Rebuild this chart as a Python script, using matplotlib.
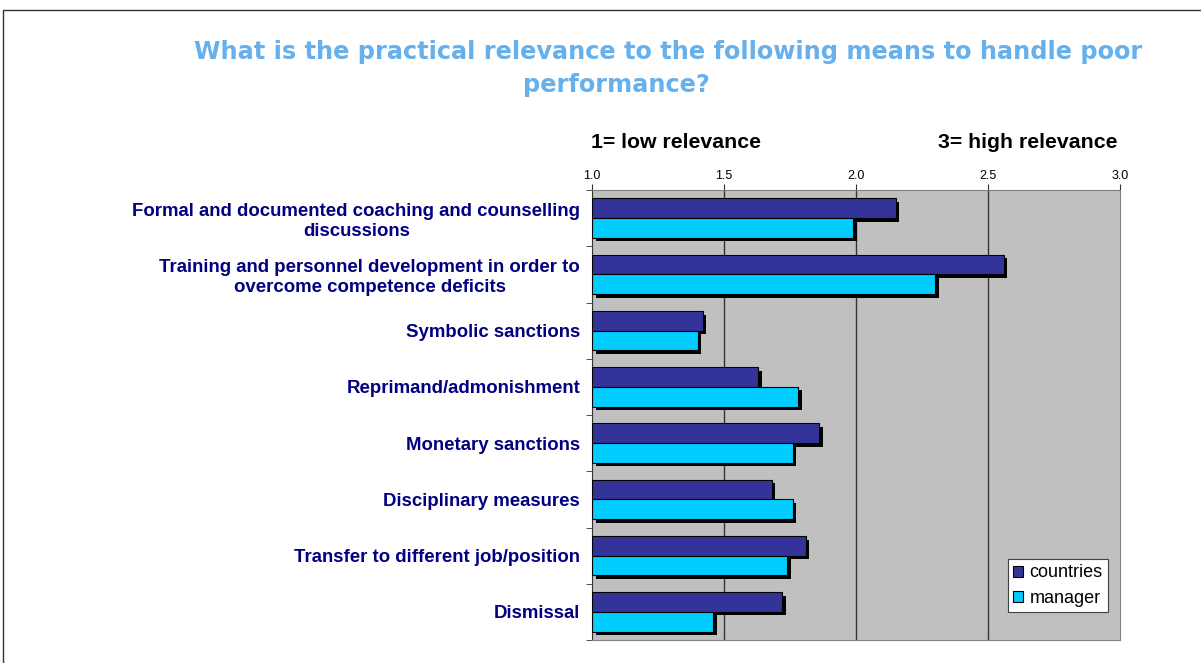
import matplotlib.pyplot as plt
import matplotlib.patheffects as pe
import numpy as np
from matplotlib.lines import Line2D
from matplotlib.patches import Patch

plt.rcParams['font.family'] = ['Liberation Sans', 'DejaVu Sans']

# Data
categories = ["Formal and documented coaching and counselling\ndiscussions",
              "Training and personnel development in order to\novercome competence deficits",
              "Symbolic sanctions",
              "Reprimand/admonishment",
              "Monetary sanctions",
              "Disciplinary measures",
              "Transfer to different job/position",
              "Dismissal"]
countries = [2.15, 2.56, 1.42, 1.63, 1.86, 1.68, 1.81, 1.72]
manager = [1.99, 2.30, 1.40, 1.78, 1.76, 1.76, 1.74, 1.46]
xticks = [1.0, 1.5, 2.0, 2.5, 3.0]

c_countries = '#333399'
c_manager = '#00CCFF'

fig = plt.figure(figsize=(12.01, 6.63), dpi=100)
ax = fig.add_axes([592/1201, 1-640/663, 528/1201, 450/663])
ax.set_facecolor('#C0C0C0')

y = np.arange(len(categories))
h = 0.35
shadow = [pe.SimplePatchShadow(offset=(2.6, -2.6), shadow_rgbFace='black', alpha=1.0), pe.Normal()]
b1 = ax.barh(y - h/2, np.array(countries) - 1, left=1, height=h, color=c_countries,
             edgecolor='black', linewidth=0.8, zorder=3)
b2 = ax.barh(y + h/2, np.array(manager) - 1, left=1, height=h, color=c_manager,
             edgecolor='black', linewidth=0.8, zorder=3)
for b in list(b1) + list(b2):
    b.set_path_effects(shadow)

ax.set_xlim(1.0, 3.0)
ax.set_ylim(len(categories) - 0.5, -0.5)
ax.xaxis.tick_top()
ax.set_xticks(xticks)
ax.set_xticklabels([f"{t:.1f}" for t in xticks], fontsize=9)
ax.tick_params(axis='x', direction='out', length=4, color='#333333', pad=2)
for t in xticks[1:-1]:
    ax.axvline(t, color='#333333', lw=1, zorder=1)

ax.set_yticks(y)
ax.set_yticklabels(categories, fontsize=13.4, fontweight='bold', color='#000080',
                   multialignment='center')
ax.tick_params(axis='y', length=0, pad=8.5)
ax.set_yticks(np.arange(len(categories) + 1) - 0.5, minor=True)
ax.tick_params(axis='y', which='minor', length=4, direction='out', color='#333333')

for s in ['top', 'right', 'bottom']:
    ax.spines[s].set_color('#808080')
ax.spines['left'].set_color('#333333')

handles = [Patch(facecolor=c_countries, edgecolor='black', linewidth=0.8),
           Patch(facecolor=c_manager, edgecolor='black', linewidth=0.8)]
leg = ax.legend(handles, ['countries', 'manager'], loc='lower right',
                bbox_to_anchor=(1108/1201, 1-612/663),
                bbox_transform=fig.transFigure, fontsize=13, frameon=True, fancybox=False,
                edgecolor='#404040', framealpha=1, handlelength=0.55, handleheight=0.55,
                handletextpad=0.35, borderpad=0.3, labelspacing=0.45, borderaxespad=0)
leg.get_frame().set_linewidth(0.8)

fig.text(668/1201, 1-52/663, "What is the practical relevance to the following means to handle poor",
         ha='center', va='center', fontsize=17.3, fontweight='bold', color='#66B0EE',
         family='DejaVu Sans')
fig.text(616/1201, 1-85/663, "performance?", ha='center', va='center', fontsize=17.3,
         fontweight='bold', color='#66B0EE', family='DejaVu Sans')
fig.text(591/1201, 1-142/663, "1= low relevance", ha='left', va='center', fontsize=15.3,
         fontweight='bold', color='black')
fig.text(1118/1201, 1-142/663, "3= high relevance", ha='right', va='center', fontsize=15.3,
         fontweight='bold', color='black')

fig.add_artist(Line2D([3/1201, 3/1201, 1], [0, 1-10/663, 1-10/663],
                      transform=fig.transFigure, color='#333333', lw=1))

fig.savefig('out.png', dpi=100)
